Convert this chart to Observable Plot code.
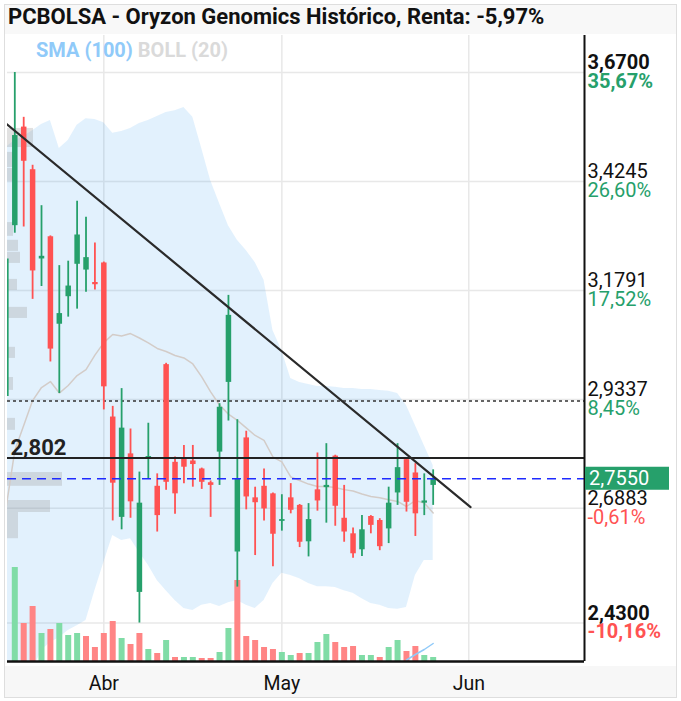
<!DOCTYPE html>
<html><head><meta charset="utf-8">
<script src="https://cdn.jsdelivr.net/npm/d3@7"></script>
<script src="https://cdn.jsdelivr.net/npm/@observablehq/plot@0.6"></script>
<style>
body{margin:0;background:#fff;font-family:Roboto,sans-serif;}
#wrap{position:relative;width:681px;height:701px;overflow:hidden;background:#fff;}
#titlebar{position:absolute;left:5px;top:5px;width:671px;height:29px;background:#f8f8f8;}
#bottombar{position:absolute;left:5px;top:666px;width:671px;height:31px;background:#f7f7f7;}
#title{position:absolute;left:8px;top:4px;font-weight:bold;font-size:22px;font-family:Roboto;color:#111;white-space:nowrap;}
#legend{position:absolute;left:36px;top:38px;font-weight:bold;font-size:20px;font-family:Roboto;white-space:nowrap;}
#chart{position:absolute;left:0;top:34px;}
#frame{position:absolute;left:4px;top:4px;width:671px;height:692px;border:1px solid #dedede;pointer-events:none;}
</style></head>
<body>
<div id="wrap">
  <div id="titlebar"></div>
  <div id="bottombar"></div>
  <div id="chart"></div>
  <div id="title">PCBOLSA - Oryzon Genomics Histórico, Renta: -5,97%</div>
  <div id="legend"><span style="color:#90caf9">SMA (100)</span> <span style="color:#dadada">BOLL (20)</span></div>
  <div id="frame"></div>
</div>
<script>
// ---- data (trading-day index -1..47) ----
const idx = d3.range(-1, 48);
const opens  = [2.940,3.325,3.547,3.451,3.250,3.300,3.103,3.165,3.238,3.225,3.197,3.241,2.894,2.668,2.811,2.499,2.800,2.738,3.012,2.792,2.800,2.795,2.777,2.746,2.815,2.972,2.590,2.847,2.712,2.738,2.721,2.659,2.712,2.695,2.613,2.730,2.735,2.806,2.666,2.631,2.595,2.670,2.661,2.642,2.723,2.798,2.768,2.700,2.740];
const highs  = [3.280,3.670,3.569,3.461,3.370,3.302,3.235,3.245,3.380,3.344,3.286,3.243,2.918,2.958,2.867,2.770,2.880,2.766,3.015,2.804,2.830,2.830,2.779,2.750,2.924,3.168,2.888,2.862,2.736,2.777,2.723,2.719,2.744,2.697,2.699,2.813,2.834,2.808,2.740,2.644,2.672,2.672,2.665,2.736,2.834,2.802,2.789,2.766,2.775];
const lows   = [2.930,3.308,3.322,3.159,3.188,3.018,2.947,3.119,3.137,3.175,3.180,2.910,2.660,2.640,2.666,2.430,2.755,2.635,2.729,2.675,2.744,2.736,2.731,2.668,2.740,2.885,2.511,2.685,2.582,2.660,2.557,2.637,2.676,2.600,2.579,2.682,2.655,2.648,2.612,2.576,2.580,2.631,2.593,2.609,2.695,2.680,2.625,2.672,2.695];
const closes = [3.250,3.528,3.470,3.223,3.256,3.047,3.127,3.189,3.304,3.253,3.192,2.962,2.745,2.869,2.703,2.700,2.805,2.672,2.747,2.721,2.781,2.787,2.747,2.740,2.916,3.123,2.755,2.714,2.701,2.687,2.630,2.663,2.684,2.612,2.663,2.705,2.740,2.693,2.635,2.586,2.640,2.650,2.602,2.700,2.780,2.702,2.676,2.705,2.755];
const volumes = [null,940,380,550,280,320,380,260,280,250,140,280,400,230,170,280,120,80,210,40,40,40,30,30,90,330,810,250,210,140,120,90,60,80,80,190,270,190,140,150,60,60,40,140,210,100,150,60,40];
const volSma = [null,null,null,null,null,null,null,null,null,null,null,null,null,null,null,null,null,null,null,null,null,null,null,null,null,null,null,null,null,null,null,null,null,null,null,null,null,null,null,null,null,null,null,null,null,15,70,120,180];
const bollUpper = [3.501,3.517,3.526,3.539,3.553,3.562,3.499,3.517,3.551,3.566,3.564,3.557,3.533,3.537,3.544,3.555,3.562,3.571,3.580,3.584,3.591,3.569,3.499,3.427,3.375,3.325,3.292,3.269,3.242,3.202,3.089,3.044,2.981,2.972,2.967,2.963,2.963,2.961,2.958,2.958,2.956,2.956,2.954,2.952,2.947,2.920,2.875,2.830,2.785];
const bollLower = [1.873,2.120,2.224,2.323,2.368,2.386,2.397,2.413,2.424,2.436,2.503,2.566,2.627,2.616,2.620,2.589,2.560,2.526,2.503,2.481,2.463,2.458,2.470,2.474,2.467,2.476,2.481,2.470,2.463,2.481,2.519,2.542,2.537,2.530,2.519,2.512,2.512,2.510,2.503,2.497,2.485,2.474,2.470,2.463,2.461,2.465,2.537,2.571,2.571];
// volume profile by price: [low, high, volume]
const profLow  = [3.501,3.456,3.425,3.301,3.267,3.240,3.179,3.116,3.026,2.954,2.864,2.738,2.679,2.620];
const profHigh = [3.544,3.490,3.454,3.332,3.292,3.265,3.204,3.141,3.051,2.983,2.891,2.769,2.706,2.679];
const profVol  = [260,100,80,60,110,130,100,200,80,60,80,550,430,110];
const trendIdx = [-1.04, 51.2];
const trendPrice = [3.556, 2.691];
const priceTicks = [3.67, 3.4245, 3.1791, 2.9337, 2.6883, 2.43];
const priceLabels = ["3,6700","3,4245","3,1791","2,9337","2,6883","2,4300"];
const pctLabels = ["35,67%","26,60%","17,52%","8,45%","-0,61%","-10,16%"];
const monthIdx = [10, 30, 51];
const monthLabels = ["Abr","May","Jun"];
const levelSolid = 2.802, levelDotted = 2.930, lastPrice = 2.755;

// ---- build tables ----
const candles = idx.map((i,k)=>({i, o:opens[k], h:highs[k], l:lows[k], c:closes[k], v:volumes[k], vs:volSma[k], up:bollUpper[k], lo:bollLower[k],
  prevC: k>0 ? closes[k-1] : opens[k]}));
const xDom = [-0.82, 64.0];
const yDom = [2.3434, 3.7533];
const volK = (yDom[1]-yDom[0]) / 6260;
const profK = (xDom[1]-xDom[0]) / 5770;
const profile = profLow.map((l,k)=>({l, h:profHigh[k], v:profVol[k]}));
const trend = trendIdx.map((i,k)=>({i, p:trendPrice[k]}));
const ticks = priceTicks.map((p,k)=>({p, lab:priceLabels[k], pct:pctLabels[k], bold: k===0||k===priceTicks.length-1, neg: pctLabels[k].startsWith("-")}));
const months = monthIdx.map((i,k)=>({i, lab:monthLabels[k]}));

const GREEN="#26a06b", RED="#ff5252", VGREEN="#80dca6", VRED="#ff8585";

const plot = Plot.plot({
  width: 681, height: 667,
  marginTop: 1, marginBottom: 40, marginLeft: 7, marginRight: 97,
  style: {background:"transparent", fontFamily:"Roboto", fontSize:"20px", color:"#111"},
  x: {domain: xDom, axis: null},
  y: {domain: yDom, axis: null},
  marks: [
    Plot.ruleY(priceTicks, {stroke:"#e8e8e8", strokeWidth:1.5}),
    Plot.ruleX(monthIdx, {stroke:"#e8e8e8", strokeWidth:1.5}),
    Plot.areaY(candles, {x:"i", y1:"lo", y2:"up", fill:"#2196f3", fillOpacity:0.13, clip:true}),
    Plot.rect(profile, {x1: xDom[0], x2: d=>xDom[0]+d.v*profK, y1:"l", y2:"h", fill:"#9a9a9a", fillOpacity:0.3}),
    Plot.ruleX(candles.filter(d=>d.v!=null), {x:"i", y1: yDom[0], y2: d=>yDom[0]+d.v*volK, stroke: d=>d.c>=d.prevC?VGREEN:VRED, strokeWidth:6}),
    Plot.line(candles.filter(d=>d.vs!=null), {x:"i", y: d=>yDom[0]+d.vs*volK, stroke:"#90caf9", strokeWidth:1.5}),
    Plot.line(candles, {x:"i", y: d=>(d.up+d.lo)/2, stroke:"#d3ccc8", strokeWidth:1.5, clip:true}),
    Plot.ruleY([levelDotted], {stroke:"#333", strokeWidth:1.5, strokeDasharray:"3,3"}),
    Plot.ruleX(candles, {x:"i", y1:"l", y2:"h", stroke: d=>d.c>=d.o?GREEN:RED, strokeWidth:1.8, clip:true}),
    Plot.ruleX(candles, {x:"i", y1:"o", y2:"c", stroke: d=>d.c>=d.o?GREEN:RED, strokeWidth:5.5, clip:true}),
    Plot.ruleY([levelSolid], {stroke:"#222", strokeWidth:2}),
    Plot.ruleY([lastPrice], {stroke:"#1f2bff", strokeWidth:1.6, strokeDasharray:"9,6"}),
    Plot.line(trend, {x:"i", y:"p", stroke:"#2a2a2a", strokeWidth:2.2, clip:true}),
    Plot.ruleX([xDom[1]], {stroke:"#111", strokeWidth:2}),
    Plot.ruleY([yDom[0]], {stroke:"#111", strokeWidth:2.5}),
    Plot.text([levelSolid], {y: d=>d, text: d=>String(d).replace(".",","), frameAnchor:"left", textAnchor:"start", lineAnchor:"bottom", dx:3, dy:-3, fontSize:22, fontWeight:"bold", fill:"#222"}),
    Plot.text(ticks.filter(d=>!d.bold), {y:"p", text:"lab", frameAnchor:"right", textAnchor:"start", lineAnchor:"bottom", dx:3, dy:-3, fontSize:20, fill:"#111"}),
    Plot.text(ticks.filter(d=>d.bold), {y:"p", text:"lab", frameAnchor:"right", textAnchor:"start", lineAnchor:"bottom", dx:3, dy:-3, fontSize:20, fontWeight:"bold", fill:"#111"}),
    Plot.text(ticks.filter(d=>!d.bold), {y:"p", text:"pct", frameAnchor:"right", textAnchor:"start", lineAnchor:"top", dx:3, dy:1, fontSize:20, fill: d=>d.neg?RED:GREEN}),
    Plot.text(ticks.filter(d=>d.bold), {y:"p", text:"pct", frameAnchor:"right", textAnchor:"start", lineAnchor:"top", dx:3, dy:1, fontSize:20, fontWeight:"bold", fill: d=>d.neg?RED:GREEN}),
    Plot.text(months, {x:"i", text:"lab", frameAnchor:"bottom", lineAnchor:"middle", dy:22, fontSize:19.5, fill:"#111"})
  ]
});
document.getElementById("chart").appendChild(plot);

// current price tag on the right axis
const svg = d3.select(plot);
const py = plot.scale("y").apply(lastPrice);
const px = 681 - 97;
const g = svg.append("g");
g.append("rect").attr("x", px+1).attr("y", py-11.5).attr("width", 84).attr("height", 23).attr("fill", GREEN);
g.append("text").attr("x", px+5).attr("y", py).attr("dy","0.36em").attr("fill","#fff").attr("text-anchor","start")
  .attr("font-size", 20).attr("font-family","Roboto").text(lastPrice.toFixed(4).replace(".",","));
</script>
</body></html>
